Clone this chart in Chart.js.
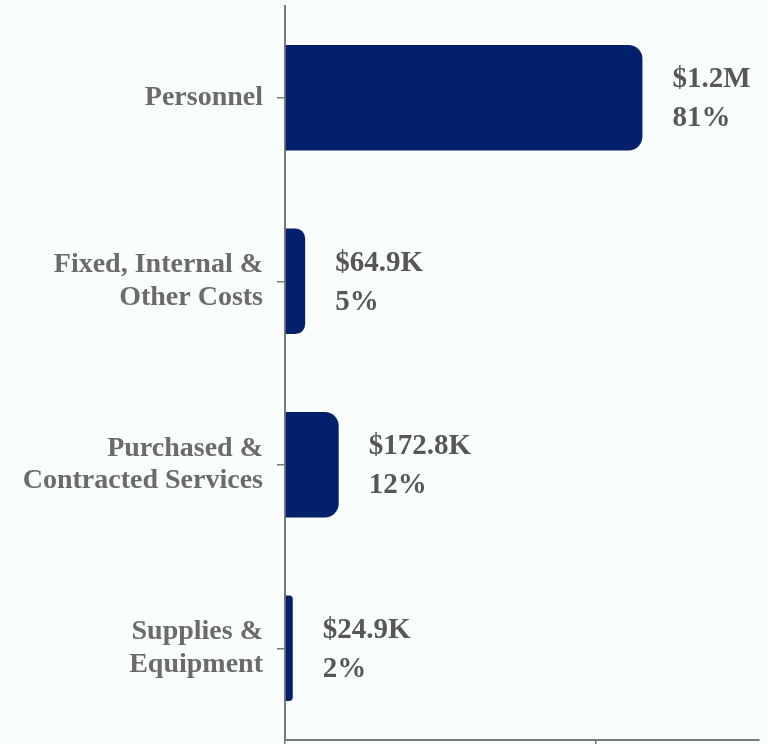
<!DOCTYPE html>
<html>
<head>
<meta charset="utf-8">
<script src="https://cdn.jsdelivr.net/npm/chart.js@4.4.1/dist/chart.umd.min.js"></script>
<style>
  html, body { margin: 0; padding: 0; background: #f9fdfd; }
  #wrap { width: 768px; height: 744px; }
</style>
</head>
<body>
<div id="wrap"><canvas id="budget_chart"></canvas></div>
<script>
// categories (multi-line labels as shown)
const categories = [
    "Personnel",
    ["Fixed, Internal &", "Other Costs"],
    ["Purchased &", "Contracted Services"],
    ["Supplies &", "Equipment"]
];
// spending per category, in dollars
const amounts = [1150000, 64900, 172800, 24900];
// text printed next to each bar
const amountLabels = ["$1.2M", "$64.9K", "$172.8K", "$24.9K"];
const shareLabels = ["81%", "5%", "12%", "2%"];
// x axis tick values (labels are cut off below the picture)
const xTicks = [0, 1000000];
const xMax = 1525000;

// draws the amount + share text to the right of every bar
const valueLabels = {
    id: "valueLabels",
    afterDatasetsDraw(chart) {
        const ctx = chart.ctx;
        const meta = chart.getDatasetMeta(0);
        ctx.save();
        ctx.fillStyle = "#575757";
        ctx.font = "bold 29px 'Liberation Serif'";
        ctx.textAlign = "left";
        ctx.textBaseline = "middle";
        meta.data.forEach((bar, i) => {
            let x = bar.x + 30;
            ctx.fillText(amountLabels[i], x, bar.y - 18);
            ctx.fillText(shareLabels[i], x, bar.y + 21);
        });
        ctx.restore();
    }
};

const canvas = document.querySelector("#budget_chart").getContext("2d");
const chart = new Chart(canvas, {
    type: "bar",
    data: {
        labels: categories,
        datasets: [{
            data: amounts,
            backgroundColor: "#02216a",
            borderRadius: { topRight: 14, bottomRight: 14 },
            borderSkipped: "start",
            categoryPercentage: 1,
            barPercentage: 0.575
        }]
    },
    options: {
        indexAxis: "y",
        responsive: true,
        maintainAspectRatio: false,
        animation: false,
        layout: { padding: { top: 6, right: 9, bottom: 0, left: 0 } },
        plugins: {
            legend: { display: false },
            tooltip: { enabled: false }
        },
        scales: {
            x: {
                min: 0,
                max: xMax,
                afterBuildTicks: scale => {
                    scale.ticks = xTicks.map(v => ({ value: v }));
                },
                afterFit: scale => {
                    scale.height = 4;
                    scale.paddingLeft = 0;
                    scale.paddingRight = 0;
                },
                ticks: { display: false },
                grid: {
                    drawOnChartArea: false,
                    drawTicks: true,
                    tickLength: 8,
                    color: "#7a7a7a",
                    lineWidth: 1.5
                },
                border: { display: true, color: "#7a7a7a", width: 2 }
            },
            y: {
                afterFit: scale => {
                    scale.width = 285;
                    scale.paddingTop = 0;
                    scale.paddingBottom = 0;
                },
                ticks: {
                    color: "#6b6b6b",
                    padding: 14,
                    font: { family: "'Liberation Serif'", size: 28, weight: "bold", lineHeight: 1.15 }
                },
                grid: {
                    offset: false,
                    drawOnChartArea: false,
                    drawTicks: true,
                    tickLength: 8,
                    color: "#7a7a7a",
                    lineWidth: 1.5
                },
                border: { display: true, color: "#7a7a7a", width: 2 }
            }
        }
    },
    plugins: [valueLabels]
});
</script>
</body>
</html>
